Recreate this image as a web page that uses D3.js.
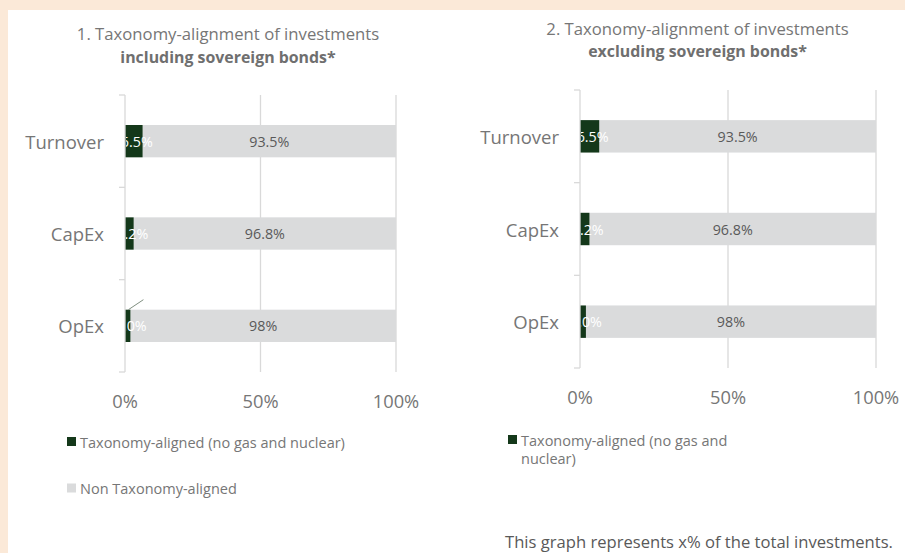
<!DOCTYPE html>
<html>
<head>
<meta charset="utf-8">
<script src="https://cdn.jsdelivr.net/npm/d3@7"></script>
<style>
  html, body { margin: 0; padding: 0; background: #FBE9D8; }
  svg { display: block; font-family: "Open Sans", Lato, sans-serif; }
</style>
</head>
<body>
<svg id="chart" width="905" height="553"></svg>
<script>
(function () {

  // ---- data ------------------------------------------------------
  const CATEGORIES = ["Turnover", "CapEx", "OpEx"];
  const TICKS = [0, 50, 100];

  const ALIGNED_INCL = [6.5, 3.2, 2.0];
  const NON_ALIGNED_INCL = [93.5, 96.8, 98];
  const ALIGNED_EXCL = [6.5, 3.2, 2.0];
  const NON_ALIGNED_EXCL = [93.5, 96.8, 98];

  const ALIGNED_LABELS = ["6.5%", "3.2%", "2.0%"];
  const NON_ALIGNED_LABELS = ["93.5%", "96.8%", "98%"];

  const DARK = "#14381A";
  const GREY = "#DADBDC";
  const GRID = "#D9D9D9";
  const TEXT = "#767676";

  const svg = d3.select("#chart");

  // white panel
  svg.append("rect")
    .attr("x", 8).attr("y", 10)
    .attr("width", 897).attr("height", 543)
    .attr("fill", "#fff");

  const defs = svg.append("defs");

  // ---- one panel -------------------------------------------------
  function drawPanel(cfg) {
    const x = d3.scaleLinear().domain([0, 100]).range([cfg.x0, cfg.x1]);
    const y = d3.scaleBand()
      .domain(CATEGORIES)
      .range([cfg.y0, cfg.y1])
      .paddingInner(0.65)
      .paddingOuter(0.325);

    const g = svg.append("g");

    // title
    g.append("text")
      .attr("x", cfg.titleX).attr("y", cfg.titleY)
      .attr("text-anchor", "middle")
      .style("font-size", "16.7px")
      .style("fill", TEXT)
      .text(cfg.title1);
    g.append("text")
      .attr("x", cfg.titleX).attr("y", cfg.titleY + 22.5)
      .attr("text-anchor", "middle")
      .style("font-size", "15.9px")
      .style("font-weight", 700)
      .style("fill", "#6f6f6f")
      .text(cfg.title2);

    // gridlines
    g.selectAll(".grid")
      .data(TICKS.filter(t => t > 0))
      .enter().append("line")
      .attr("x1", d => x(d)).attr("x2", d => x(d))
      .attr("y1", cfg.y0).attr("y2", cfg.y1)
      .attr("stroke", GRID).attr("stroke-width", 1.3);

    // x tick labels
    g.selectAll(".xt")
      .data(TICKS)
      .enter().append("text")
      .attr("x", d => x(d))
      .attr("y", cfg.tickY)
      .attr("text-anchor", "middle")
      .attr("dominant-baseline", "central")
      .style("font-size", "18.3px")
      .style("fill", TEXT)
      .text(d => d + "%");

    // bars
    const rows = CATEGORIES.map((c, i) => ({
      cat: c, a: cfg.aligned[i], n: cfg.nonAligned[i],
      aLabel: ALIGNED_LABELS[i], nLabel: NON_ALIGNED_LABELS[i]
    }));

    g.selectAll(".bar-n")
      .data(rows)
      .enter().append("rect")
      .attr("x", d => x(d.a))
      .attr("y", d => y(d.cat))
      .attr("width", d => x(d.a + d.n) - x(d.a))
      .attr("height", y.bandwidth())
      .attr("fill", GREY);

    g.selectAll(".bar-a")
      .data(rows)
      .enter().append("rect")
      .attr("x", x(0))
      .attr("y", d => y(d.cat))
      .attr("width", d => x(d.a) - x(0))
      .attr("height", y.bandwidth())
      .attr("fill", DARK);

    // axis line with tick marks at band boundaries
    g.append("line")
      .attr("x1", x(0)).attr("x2", x(0))
      .attr("y1", cfg.y0).attr("y2", cfg.y1)
      .attr("stroke", GRID).attr("stroke-width", 1.3);
    const bounds = CATEGORIES.map(c => y(c) - y.step() * y.paddingInner() / 2)
      .concat([cfg.y1]);
    g.selectAll(".ytick")
      .data(bounds)
      .enter().append("line")
      .attr("x1", x(0) - 6).attr("x2", x(0))
      .attr("y1", d => d).attr("y2", d => d)
      .attr("stroke", GRID).attr("stroke-width", 1.3);

    // category labels
    g.selectAll(".cat")
      .data(CATEGORIES)
      .enter().append("text")
      .attr("x", x(0) - 21)
      .attr("y", d => y(d) + y.bandwidth() / 2)
      .attr("text-anchor", "end")
      .attr("dominant-baseline", "central")
      .style("font-size", "18.5px")
      .style("fill", TEXT)
      .text(d => d);

    // data labels
    const clipId = "clip-" + cfg.id;
    defs.append("clipPath").attr("id", clipId)
      .append("rect")
      .attr("x", x(0) + 1).attr("y", cfg.y0)
      .attr("width", x(100) - x(0)).attr("height", cfg.y1 - cfg.y0);

    g.append("g").attr("clip-path", `url(#${clipId})`)
      .selectAll("text")
      .data(rows)
      .enter().append("text")
      .attr("x", d => x(d.a / 2) + 3)
      .attr("y", d => y(d.cat) + y.bandwidth() / 2)
      .attr("text-anchor", "middle")
      .attr("dominant-baseline", "central")
      .style("font-size", "14.3px")
      .style("fill", "#fff")
      .text(d => d.aLabel);

    g.selectAll(".lab-n")
      .data(rows)
      .enter().append("text")
      .attr("x", d => x(d.a + d.n / 2))
      .attr("y", d => y(d.cat) + y.bandwidth() / 2)
      .attr("text-anchor", "middle")
      .attr("dominant-baseline", "central")
      .style("font-size", "14.3px")
      .style("fill", "#595959")
      .text(d => d.nLabel);

    // leader line (label moved in Excel)
    if (cfg.leader) {
      const r = rows[cfg.leader];
      g.append("line")
        .attr("x1", x(r.a) - 2).attr("y1", y(r.cat))
        .attr("x2", x(r.a) + 13).attr("y2", y(r.cat) - 10)
        .attr("stroke", "#7f8f80").attr("stroke-width", 1);
    }

    // legend
    const leg = g.append("g");
    cfg.legend.forEach(item => {
      leg.append("rect")
        .attr("x", cfg.legX).attr("y", item.y - 4.5)
        .attr("width", 9).attr("height", 9)
        .attr("fill", item.color);
      const t = leg.append("text")
        .attr("x", cfg.legX + 13)
        .attr("y", item.y)
        .attr("dominant-baseline", "central")
        .style("font-size", "14.5px")
        .style("fill", TEXT);
      item.lines.forEach((ln, j) => {
        t.append("tspan")
          .attr("x", cfg.legX + 13)
          .attr("dy", j === 0 ? 0 : 18.5)
          .text(ln);
      });
    });
  }

  drawPanel({
    id: "incl",
    x0: 125, x1: 396, y0: 95, y1: 372,
    titleX: 228, titleY: 40,
    title1: "1. Taxonomy-alignment of investments",
    title2: "including sovereign bonds*",
    tickY: 400,
    aligned: ALIGNED_INCL, nonAligned: NON_ALIGNED_INCL,
    leader: 2,
    legX: 67,
    legend: [
      { y: 441.5, color: DARK, lines: ["Taxonomy-aligned (no gas and nuclear)"] },
      { y: 488, color: GREY, lines: ["Non Taxonomy-aligned"] }
    ]
  });

  drawPanel({
    id: "excl",
    x0: 580, x1: 876, y0: 90, y1: 368,
    titleX: 697.5, titleY: 34.5,
    title1: "2. Taxonomy-alignment of investments",
    title2: "excluding sovereign bonds*",
    tickY: 396.5,
    aligned: ALIGNED_EXCL, nonAligned: NON_ALIGNED_EXCL,
    leader: null,
    legX: 508,
    legend: [
      { y: 439.5, color: DARK, lines: ["Taxonomy-aligned (no gas and", "nuclear)"] }
    ]
  });

  svg.append("text")
    .attr("x", 505).attr("y", 541.5)
    .attr("dominant-baseline", "central")
    .style("font-size", "16.6px")
    .style("fill", "#595959")
    .text("This graph represents x% of the total investments.");

})();
</script>
</body>
</html>
